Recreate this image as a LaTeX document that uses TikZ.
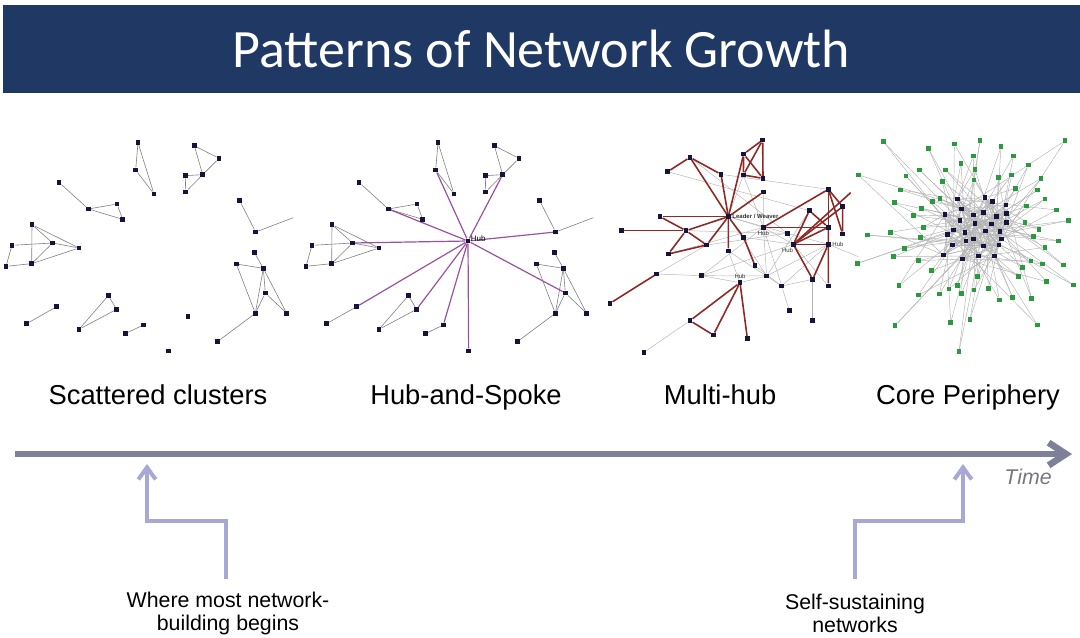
\documentclass[tikz,border=0pt]{standalone}
\usepackage{fontspec}
\setmainfont{Liberation Sans}
\newfontfamily\titlefont{Carlito}
\usetikzlibrary{arrows.meta}
\pgfdeclarelayer{netbg}
\pgfsetlayers{netbg,main}

\definecolor{titlenavy}{HTML}{1F3864}
\definecolor{ndblue}{HTML}{14143C}
\definecolor{pgreen}{HTML}{2A9A3E}
\definecolor{lngray}{HTML}{B4B4B4}
\definecolor{clgray}{HTML}{808080}
\definecolor{spokepurple}{HTML}{9A52A0}
\definecolor{tiered}{HTML}{8E2A26}
\definecolor{axisgray}{HTML}{7E8098}
\definecolor{pointerblue}{HTML}{A7A7D8}
\definecolor{timegray}{HTML}{77777F}

\tikzset{
  nd/.style={rectangle, fill=ndblue, inner sep=0pt, minimum size=3.4pt},
  pnd/.style={nd, fill=pgreen},
  clusterln/.style={draw=clgray, line width=0.45pt},
  ln/.style={draw=lngray, line width=0.35pt},
  spoke/.style={draw=spokepurple, line width=0.9pt},
  tie/.style={draw=tiered, line width=1.2pt},
  hublabel/.style={font=\fontsize{4.5}{5}\selectfont, inner sep=1pt, text=black!80},
  panellabel/.style={font=\fontsize{20.5}{24}\selectfont, anchor=base, inner sep=0pt},
  notelabel/.style={font=\fontsize{16}{17.25}\selectfont, align=center, inner sep=0pt},
  timeaxis/.style={draw=axisgray, line width=5pt, -{Straight Barb[length=13pt,width=17pt]}},
  pointer/.style={draw=pointerblue, line width=3pt, -{Straight Barb[length=9pt,width=13pt]}},
}

% the scattered groups, reused for the hub-and-spoke panel
\newcommand{\clusternet}[1]{%
  \foreach \n/\nx/\ny in {a1/414/38, a2/407/120, a3/462/192,
      b1/583/47, b2/657/85, b3/608/134, b4/556/137, b5/557/186,
      c1/177/157, c2/265/237, c3/351/222, c4/368/268,
      d1/96/284, d2/36/346, d3/158/339, d4/237/354, d5/18/409, d6/95/401,
      e1/719/212, e2/767/306,
      f1/763/367, f2/709/402, f3/790/415, f4/796/489, f5/766/550, f6/860/550, f7/652/635,
      g1/170/530, g2/80/581, h1/325/497, h2/350/538, h3/237/598,
      i1/430/585, i2/376/611, j2/506/663}
    \node[nd] (#1\n) at (\nx,\ny) {};
  \coordinate (#1e3) at (880,263);
  \begin{pgfonlayer}{netbg}
  \foreach \s/\t in {a1/a2, a1/a3, a2/a3, b1/b2, b1/b3, b2/b3, b3/b4, b4/b5, b5/b3,
      c1/c2, c2/c3, c2/c4, c3/c4, d1/d6, d1/d3, d1/d4, d2/d3, d2/d5, d5/d6, d6/d3,
      d6/d4, d3/d4, e1/e2, e2/e3, f1/f3, f2/f3, f2/f5, f3/f4, f3/f5, f3/f6, f4/f5,
      f4/f6, f5/f7, g1/g2, h1/h2, h1/h3, h2/h3, i1/i2}
    \draw[clusterln] (#1\s) -- (#1\t);
  \end{pgfonlayer}
}

\begin{document}
\begin{tikzpicture}[x=0.75pt, y=-0.75pt]
\useasboundingbox (0,0) rectangle (1080,638);

% Title
\node[fill=titlenavy, text=white, font=\titlefont\fontsize{40.5}{48}\selectfont,
  minimum width=807.75pt, minimum height=66pt, inner sep=0pt] (title) at (541.5,49)
  {Patterns of Network Growth};

% Scattered clusters
\begin{scope}[shift={(0,130)}, scale=1/3]
\clusternet{s}
\node[nd] (sj1) at (564,559) {};
\end{scope}

% Hub-and-Spoke
\begin{scope}[shift={(300,130)}, scale=1/3]
\clusternet{k}
\node[nd] (hub) at (504,333) {};
\node[font=\fontsize{6}{7}\selectfont, inner sep=0pt, anchor=south west] (hubtext) at (512,336) {Hub};
\begin{pgfonlayer}{netbg}
\foreach \t in {a2, b3, c2, d3, g1, h2, i1, j2, f4, e2}
  \draw[spoke] (hub) -- (k\t);
\end{pgfonlayer}
\end{scope}

% Multi-hub
\begin{scope}[shift={(600,130)}, scale=1/3]
\foreach \n/\nx/\ny in {lw/385/260, t1/488/30, t2/431/72, t3/430/135, t4/489/145,
    u1/270/82, u2/203/125, u3/363/133, u4/490/186,
    v1/180/260, v2/65/302, v3/258/302, v4/320/345, v5/205/372, v6/385/363, v7/431/322, v8/465/407,
    hubA/490/292, r1/685/178, r2/728/230, r3/628/242, r4/685/292, r5/728/312, r6/562/310,
    hubB/580/343, hubC/685/343, w1/638/448, w2/685/468, w3/545/468, w4/500/438,
    hubD/420/458, b1/305/437, b2/170/432, b3/30/520, b4/270/572, b5/340/615, b6/442/625,
    b7/132/667, b8/568/542, b9/638/572}
  \node[nd] (\n) at (\nx,\ny) {};
\coordinate (xa) at (752,188);
\coordinate (xb) at (775,380);
\node[hublabel, anchor=west, font=\bfseries\fontsize{4.5}{5}\selectfont] (lwtext) at (lw.east) {Leader / Weaver};
\node[hublabel, anchor=north] (hubAtext) at (hubA.south) {Hub};
\node[hublabel, anchor=north east] (hubBtext) at ([xshift=3pt]hubB.south) {Hub};
\node[hublabel, anchor=west] (hubCtext) at (hubC.east) {Hub};
\node[hublabel, anchor=south] (hubDtext) at (hubD.north) {Hub};
\begin{pgfonlayer}{netbg}
\foreach \s/\t in {lw/hubA, lw/r6, lw/w4, lw/t3, u1/r6, t3/hubA, u4/hubA, v7/hubB,
    hubA/w3, hubA/w4, b2/b1, b1/w4, b1/hubB, v4/r6, v5/hubA, b2/v4, w4/hubC, w3/w1,
    w3/hubC, w1/b9, w3/b8, hubD/w4, hubD/v6, hubD/b1, v8/w3, b7/b4, hubC/xb, r6/w1,
    hubA/hubB, v6/w3, b1/hubA, u2/r3, u3/r1, v3/r6, w4/r3, hubB/w2, r6/hubC}
  \draw[ln] (\s) -- (\t);
\foreach \s/\t in {u1/u2, u1/u3, u1/lw, u3/lw, t2/lw, u4/lw, v1/lw, v3/lw, v4/lw,
    v6/lw, v7/lw, v7/v8, v1/v3, v2/v3, v3/v4, v3/v5, v5/v4, t1/t2, t1/t3, t1/t4,
    t2/t3, t2/t4, t3/t4, hubA/r1, hubA/r4, r1/r4, r1/r2, r2/r5, r1/r5, r3/hubB,
    r3/r4, hubB/hubC, r4/hubC, hubB/r2, hubB/r4, hubB/w1, hubC/w1, hubC/w2,
    hubB/xa, b3/b2, hubD/b4, hubD/b6, b4/b5, b5/hubD}
  \draw[tie] (\s) -- (\t);
\end{pgfonlayer}
\end{scope}

% Core Periphery
\begin{scope}[shift={(850,130)}, scale=1/3]
\foreach \nx/\ny [count=\i] in {322/207, 405/203, 427/215, 468/225, 335/237, 370/255,
    400/248, 285/253, 470/250, 440/260, 330/272, 375/280, 425/282, 470/278, 310/300,
    345/307, 407/303, 450/305, 293/313, 370/327, 348/333, 455/327, 308/345, 400/348,
    447/345, 280/375, 338/387, 385/378, 433/378}
  \node[nd] (c\i) at (\nx,\ny) {};
\foreach \nx/\ny [count=\i] in {100/35, 235/55, 313/42, 390/32, 453/50, 645/32, 490/78,
    535/105, 370/78, 333/100, 375/118, 208/120, 287/120, 25/135, 168/138, 445/143,
    485/135, 573/145, 372/150, 277/155, 152/180, 497/175, 563/180, 585/207, 530/228,
    620/240, 655/272, 133/218, 248/215, 270/205, 215/235, 190/257, 220/292, 52/315,
    122/307, 212/322, 567/298, 525/277, 550/320, 626/333, 585/352, 163/355, 130/380,
    205/392, 23/400, 543/393, 577/402, 640/405, 518/412, 505/440, 245/422, 383/440,
    415/475, 590/455, 670/465, 147/467, 297/477, 322/466, 372/480, 268/492, 335/490,
    205/495, 448/510, 488/503, 545/505, 135/587, 302/578, 360/568, 562/585, 327/665}
  \node[pnd] (p\i) at (\nx,\ny) {};
\pgfmathsetseed{11}
\begin{pgfonlayer}{netbg}
\foreach \i in {1,...,70} {
  \pgfmathrandominteger{\ka}{1}{29}
  \pgfmathrandominteger{\kb}{1}{29}
  \draw[ln] (p\i) -- (c\ka);
  \draw[ln] (p\i) -- (c\kb);
}
\foreach \i in {1,...,29} {
  \foreach \j in {1,2,3,4} {
    \pgfmathrandominteger{\ka}{1}{29}
    \draw[ln] (c\i) -- (c\ka);
  }
}
\end{pgfonlayer}
\end{scope}

% Panel names
\node[panellabel] (scatteredname) at (158,404) {Scattered clusters};
\node[panellabel] (hubspokename) at (466,404) {Hub-and-Spoke};
\node[panellabel] (multihubname) at (720,404) {Multi-hub};
\node[panellabel] (corename) at (968,404) {Core Periphery};

% Time axis
\coordinate (tstart) at (15,454);
\coordinate (tend) at (1072,454);
\draw[timeaxis] (tstart) -- (tend);
\node[font=\itshape\fontsize{16}{19}\selectfont, text=timegray, anchor=base, inner sep=0pt] (timetext) at (1028,484) {Time};

% Pointers
\coordinate (lfoot) at (226,579);
\coordinate (lturn) at (147,521);
\coordinate (ltip) at (147,464);
\draw[pointer] (lfoot) |- (lturn) -- (ltip);
\coordinate (rfoot) at (855,579);
\coordinate (rturn) at (963,521);
\coordinate (rtip) at (963,464);
\draw[pointer] (rfoot) |- (rturn) -- (rtip);

\node[notelabel] (beginnote) at (228,613) {Where most network-\\building begins};
\node[notelabel] (sustainnote) at (855,613) {Self-sustaining\\networks};

\end{tikzpicture}
\end{document}
